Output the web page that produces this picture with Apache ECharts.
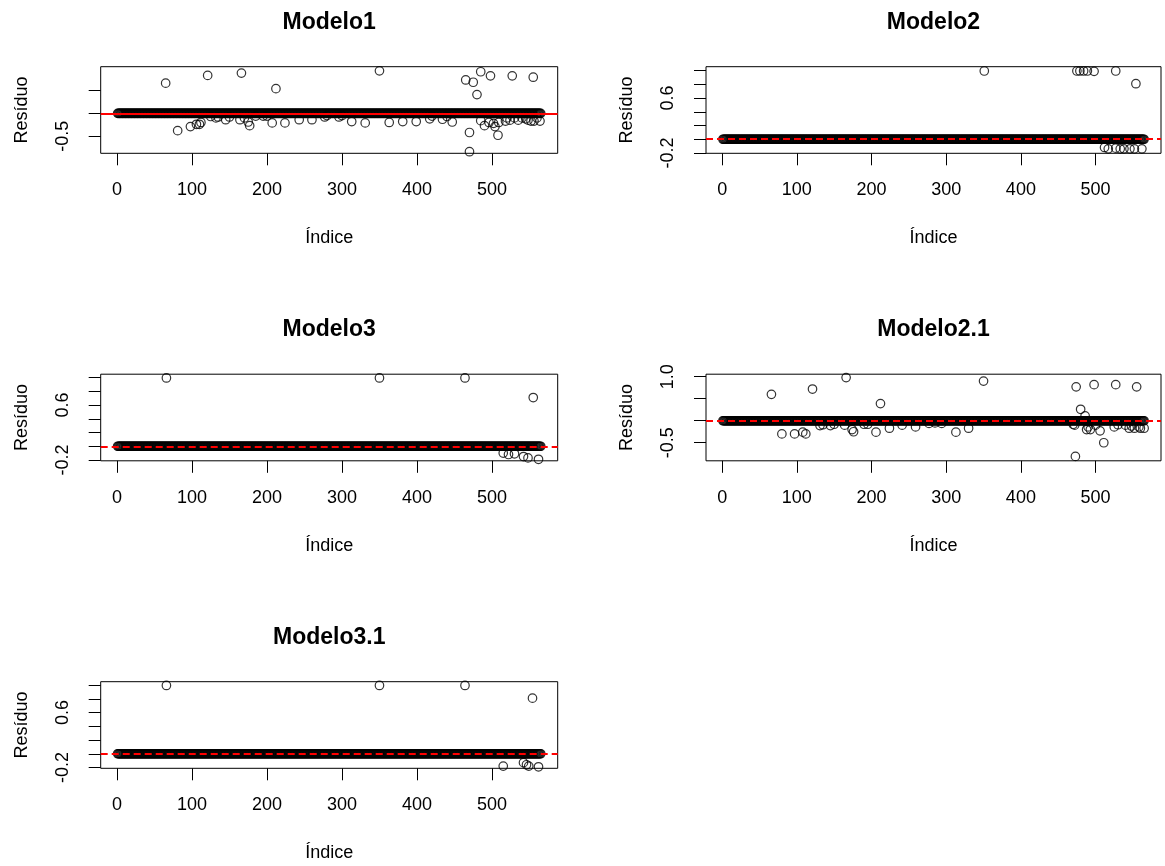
<!DOCTYPE html>
<html><head><meta charset="utf-8">
<script src="https://cdn.jsdelivr.net/npm/echarts@6/dist/echarts.min.js"></script>
<style>html,body{margin:0;padding:0;background:#fff}#c{width:1165px;height:866px}</style>
</head><body><div id="c"></div>
<script>
// ---- data ----
// observations 1..nObs; every residual sits on the band at ~0 except the listed [index, residual] pairs
const nObs = 565;
const xTicks = [0, 100, 200, 300, 400, 500];
const panelNames = ['Modelo1', 'Modelo2', 'Modelo3', 'Modelo2.1', 'Modelo3.1'];

const outModelo1 = [
  [65,0.66],[121,0.83],[166,0.88],[212,0.54],[350,0.93],[465,0.73],[475,0.68],[480,0.41],[485,0.91],[498,0.82],[527,0.82],[555,0.79],
  [81,-0.38],[98,-0.29],[106,-0.24],[110,-0.24],[112,-0.2],[132,-0.1],[145,-0.14],[164,-0.14],[175,-0.19],[177,-0.27],[207,-0.21],[224,-0.21],
  [243,-0.14],[260,-0.14],[277,-0.08],[296,-0.08],[313,-0.18],[331,-0.21],[363,-0.2],[381,-0.18],[399,-0.18],[417,-0.12],[434,-0.13],[447,-0.19],
  [470,-0.42],[470,-0.84],[485,-0.16],[490,-0.27],[496,-0.2],[502,-0.22],[504,-0.29],[509,-0.2],[508,-0.48],[518,-0.17],[524,-0.15],[535,-0.15],
  [548,-0.15],[552,-0.17],[556,-0.17],[564,-0.17],
  [125,-0.07],[135,-0.08],[150,-0.08],[170,-0.1],[185,-0.06],[195,-0.06],[200,-0.06],[280,-0.05],[300,-0.05],[420,-0.06],[440,-0.07],
  [520,-0.1],[530,-0.1],[540,-0.1],[545,-0.12],[560,-0.1]
];
const outModelo2 = [
  [351,0.995],[475,0.995],[479,0.995],[484,0.995],[489,0.995],[498,0.99],[527,0.995],[554,0.81],
  [512,-0.12],[517,-0.14],[527,-0.13],[533,-0.14],[538,-0.14],[546,-0.14],[552,-0.14],[562,-0.14]
];
const outModelo3 = [
  [66,0.995],[350,0.995],[464,0.995],[555,0.71],
  [515,-0.1],[522,-0.12],[530,-0.11],[542,-0.15],[548,-0.17],[562,-0.19]
];
const outModelo21 = [
  [66,0.6],[121,0.72],[166,0.98],[212,0.39],[350,0.9],[474,0.77],[480,0.26],[486,0.11],[498,0.82],[527,0.82],[555,0.77],
  [80,-0.3],[97,-0.3],[108,-0.26],[112,-0.3],[131,-0.11],[145,-0.11],[164,-0.1],[174,-0.2],[176,-0.25],[206,-0.26],[224,-0.17],
  [241,-0.1],[259,-0.14],[277,-0.06],[294,-0.06],[313,-0.26],[330,-0.17],[473,-0.81],[472,-0.1],[488,-0.2],[490,-0.14],[493,-0.2],
  [506,-0.23],[511,-0.5],[525,-0.14],[545,-0.17],[552,-0.17],[560,-0.17],[565,-0.17],
  [135,-0.09],[150,-0.08],[190,-0.08],[195,-0.08],[285,-0.05],[470,-0.08],[500,-0.1],[530,-0.09],[540,-0.1],[548,-0.12],[558,-0.14]
];
const outModelo31 = [
  [66,0.995],[350,0.995],[464,0.995],[554,0.81],
  [515,-0.18],[542,-0.13],[546,-0.16],[549,-0.18],[562,-0.19]
];
const yTicksA = [-0.5, 0, 0.5];             const yLabelsA = [-0.5];
const yTicksB = [-0.2, 0, 0.2, 0.4, 0.6, 0.8, 1.0]; const yLabelsB = [-0.2, 0.6];
const yTicksC = [-0.5, 0, 0.5, 1.0];        const yLabelsC = [-0.5, 1.0];
const refLineValue = 0;

// ---- layout ----
const FONT = 'Liberation Sans, Arial, sans-serif';
const colLeft = [100.7, 706], colWidth = [457, 455];
const rowTop = [66.7, 374.2, 681.7], boxH = 86.6;
const xRange = [-21.6, 587.6];
const panels = [
  {name: panelNames[0], out: outModelo1, r: 0, c: 0, ymin: -0.875, ymax: 1.02, ticks: yTicksA, labels: yLabelsA, dashed: false},
  {name: panelNames[1], out: outModelo2, r: 0, c: 1, ymin: -0.205, ymax: 1.058, ticks: yTicksB, labels: yLabelsB, dashed: true},
  {name: panelNames[2], out: outModelo3, r: 1, c: 0, ymin: -0.212, ymax: 1.05, ticks: yTicksB, labels: yLabelsB, dashed: true},
  {name: panelNames[3], out: outModelo21, r: 1, c: 1, ymin: -0.91, ymax: 1.057, ticks: yTicksC, labels: yLabelsC, dashed: true},
  {name: panelNames[4], out: outModelo31, r: 2, c: 0, ymin: -0.212, ymax: 1.05, ticks: yTicksB, labels: yLabelsB, dashed: true}
];

function seriesPoints(out) {
  const pts = [];
  for (let i = 1; i <= nObs; i++) pts.push([i, 0]);
  return pts.concat(out);
}

const grid = [], xAxis = [], yAxis = [], series = [], title = [];
panels.forEach((p, k) => {
  const left = colLeft[p.c], top = rowTop[p.r], w = colWidth[p.c];
  grid.push({left: left, top: top, width: w, height: boxH, show: true, borderColor: '#000', borderWidth: 1, backgroundColor: 'transparent'});
  title.push({text: p.name, left: left + w / 2, top: top - 56, textAlign: 'center', padding: 0,
    textStyle: {fontFamily: FONT, fontSize: 23, fontWeight: 'bold', color: '#000'}});
  xAxis.push({type: 'value', gridIndex: k, min: xRange[0], max: xRange[1], position: 'bottom',
    name: 'Índice', nameLocation: 'middle', nameGap: 76,
    nameTextStyle: {fontFamily: FONT, fontSize: 18, color: '#000'},
    axisLine: {show: false, onZero: false}, splitLine: {show: false},
    axisTick: {show: true, inside: false, length: 12, customValues: xTicks, lineStyle: {color: '#000', width: 1}},
    axisLabel: {customValues: xTicks, margin: 28, fontFamily: FONT, fontSize: 18, color: '#000'}});
  yAxis.push({type: 'value', gridIndex: k, min: p.ymin, max: p.ymax, position: 'left',
    name: 'Resíduo', nameLocation: 'middle', nameGap: 70,
    nameTextStyle: {fontFamily: FONT, fontSize: 18, color: '#000'},
    axisLine: {show: false, onZero: false}, splitLine: {show: false},
    axisTick: {show: true, inside: false, length: 12, customValues: p.ticks, lineStyle: {color: '#000', width: 1}},
    axisLabel: {customValues: p.labels, rotate: 90, margin: 29, fontFamily: FONT, fontSize: 18, color: '#000',
      formatter: v => v.toFixed(1)}});
  series.push({type: 'scatter', xAxisIndex: k, yAxisIndex: k, silent: true,
    symbol: 'circle', symbolSize: 8.5,
    itemStyle: {color: 'rgba(0,0,0,0)', borderColor: '#000', borderWidth: 1.2},
    data: seriesPoints(p.out),
    markLine: {silent: true, symbol: 'none', label: {show: false}, animation: false,
      lineStyle: {color: '#ff0000', width: 2, type: p.dashed ? [7, 4] : 'solid'},
      data: [{yAxis: refLineValue}]}});
});

const chart = echarts.init(document.getElementById('c'), null, {renderer: 'canvas'});
chart.setOption({animation: false, backgroundColor: '#fff', title, grid, xAxis, yAxis, series});
</script></body></html>
